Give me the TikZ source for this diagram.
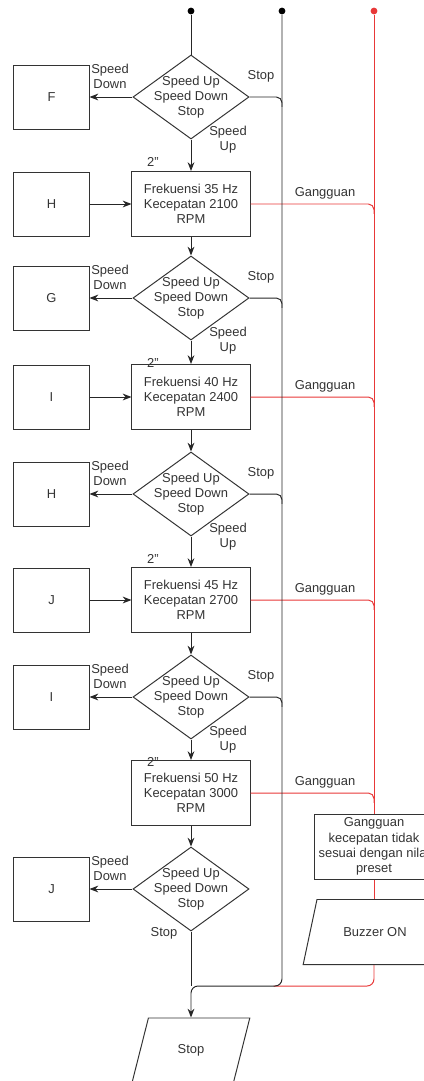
\documentclass[tikz,border=0pt]{standalone}
\usepackage{fontspec}
\setmainfont{Liberation Sans}
\usetikzlibrary{arrows.meta,shapes.geometric}
\definecolor{edge}{RGB}{51,51,51}
\definecolor{alarm}{RGB}{232,56,56}
\tikzset{
  txt/.style={font=\fontsize{9.2}{10.8}\selectfont, text=black!80, align=center},
  box/.style={draw=edge, txt, minimum width=2.95cm, minimum height=1.625cm, inner sep=1pt},
  side/.style={box, minimum width=1.875cm, minimum height=1.6cm},
  dec/.style={diamond, draw=edge, minimum width=2.9cm, minimum height=2.1cm, inner sep=0pt,
    label={[txt]center:{Speed Up\\Speed Down\\Stop}}},
  io/.style={trapezium, draw=edge, txt, trapezium stretches=true},
  lbl/.style={txt, inner sep=0pt},
  wire/.style={draw=black!85, line width=0.7pt},
  arr/.style={wire, -{Stealth[length=2.2mm, width=1.7mm]}},
  alarmw/.style={draw=alarm, line width=0.7pt},
  dot/.style={circle, fill=black, inner sep=0pt, minimum size=0.17cm}}
\begin{document}
\begin{tikzpicture}[x=0.025cm, y=-0.025cm, line width=0.7pt]
  \useasboundingbox (0,0) rectangle (423,1081);
  \node[dot] (start) at (191,11) {};
  \node[dot] (bus) at (282,11) {};
  \node[dot, fill=alarm] (rbus) at (374,11) {};
  % main column
  \node[dec] (d1) at (191,97) {};
  \node[box] (b1) at (191,204) {Frekuensi 35 Hz\\Kecepatan 2100\\RPM};
  \node[dec] (d2) at (191,298) {};
  \node[box] (b2) at (191,397) {Frekuensi 40 Hz\\Kecepatan 2400\\RPM};
  \node[dec] (d3) at (191,494) {};
  \node[box] (b3) at (191,600) {Frekuensi 45 Hz\\Kecepatan 2700\\RPM};
  \node[dec] (d4) at (191,697) {};
  \node[box] (b4) at (191,793) {Frekuensi 50 Hz\\Kecepatan 3000\\RPM};
  \node[dec] (d5) at (191,889) {};
  \node[io, trapezium left angle=72, trapezium right angle=108,
    minimum width=2.95cm, minimum height=1.6cm] (stp) at (191,1050) {Stop};
  \coordinate (j) at (191,986);
  % left column
  \node[side] (l1) at (51.5,97) {F};
  \node[side] (h1) at (51.5,204) {H};
  \node[side] (l2) at (51.5,298) {G};
  \node[side] (h2) at (51.5,397) {I};
  \node[side] (l3) at (51.5,494) {H};
  \node[side] (h3) at (51.5,600) {J};
  \node[side] (l4) at (51.5,697) {I};
  \node[side] (l5) at (51.5,889) {J};
  % alarm branch
  \node[box] (err) at (374,846.5) {Gangguan\\kecepatan tidak\\sesuai dengan nilai\\preset};
  \node[io, trapezium left angle=65, trapezium right angle=115,
    minimum width=3.6cm, minimum height=1.625cm] (buz) at (375,932) {Buzzer ON};
  % labels
  \foreach \k/\c in {1/97,2/298,3/494,4/697} {
    \node[lbl] (up\k) at (228,\c+43) {Speed\\Up};
    \node[lbl] (st\k) at (261,\c-21) {Stop};
    \node[lbl] (dl\k) at (153,\c+65) {2"};}
  \foreach \k/\c in {1/97,2/298,3/494,4/697,5/889}
    \node[lbl] (sd\k) at (110,\c-21) {Speed\\Down};
  \node[lbl] (st5) at (164,933) {Stop};
  \foreach \k/\c in {1/204,2/397,3/600,4/793}
    \node[lbl] (gg\k) at (325,\c-11) {Gangguan};
  % connectors
  \draw[wire] (start) -- (d1.north);
  \foreach \k/\n in {1/2,2/3,3/4,4/5} {
    \draw[arr] (d\k.south) -- (b\k.north);
    \draw[arr] (b\k.south) -- (d\n.north);
    \draw[alarmw, rounded corners=4pt] (b\k.east) -| ([yshift=-7pt]b\k.east -| rbus);
    \draw[wire, rounded corners=4pt] (d\k.east) -| ([yshift=-7pt]d\k.east -| bus);}
  \foreach \k in {1,2,3} \draw[arr] (h\k) -- (b\k);
  \foreach \k in {1,...,5} \draw[arr] (d\k.west) -- (l\k.east);
  \draw[wire] (d5.south) -- (j);
  \draw[alarmw] (rbus) -- (err.north);
  \draw[alarmw] (err.south) -- (buz.north -| rbus);
  \draw[alarmw, rounded corners=5pt] (buz.south -| rbus) |- ([xshift=-6pt]j -| bus);
  \draw[arr, rounded corners=5pt] (bus) |- (j) -- (stp.north -| j);
\end{tikzpicture}
\end{document}
